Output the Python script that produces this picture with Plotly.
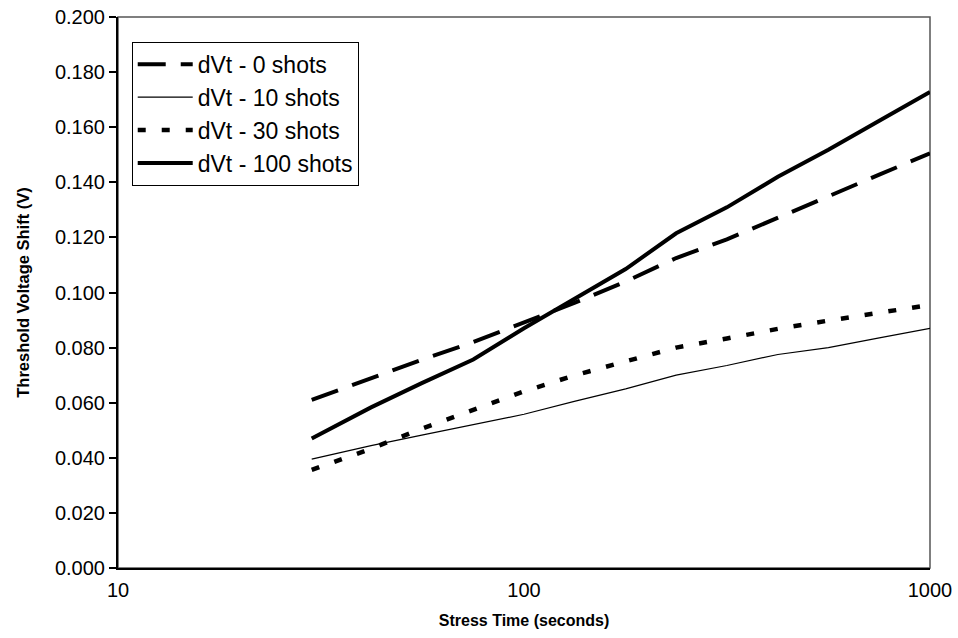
import plotly.graph_objects as go

# Stress times (seconds)
stress_time = [30, 42, 56, 75, 100, 133, 178, 237, 316, 422, 562, 750, 1000]

# Threshold voltage shift (V) for each pre-stress shot count
dvt_0_shots = [0.0610, 0.0689, 0.0756, 0.0820, 0.0890, 0.0962, 0.1040, 0.1125,
               0.1193, 0.1270, 0.1349, 0.1428, 0.1505]
dvt_10_shots = [0.0395, 0.0444, 0.0482, 0.0520, 0.0558, 0.0605, 0.0650, 0.0700,
                0.0735, 0.0775, 0.0800, 0.0835, 0.0870]
dvt_30_shots = [0.0356, 0.0433, 0.0506, 0.0576, 0.0641, 0.0699, 0.0750, 0.0800,
                0.0833, 0.0868, 0.0898, 0.0928, 0.0955]
dvt_100_shots = [0.0470, 0.0583, 0.0671, 0.0757, 0.0870, 0.0975, 0.1085, 0.1215,
                 0.1309, 0.1420, 0.1518, 0.1623, 0.1728]

series_names = ["dVt - 0 shots", "dVt - 10 shots", "dVt - 30 shots", "dVt - 100 shots"]

y_ticks = [0.0, 0.02, 0.04, 0.06, 0.08, 0.10, 0.12, 0.14, 0.16, 0.18, 0.20]
x_ticks = [10, 100, 1000]

FONT = "Liberation Sans, Arial, sans-serif"

fig = go.Figure()
fig.add_trace(go.Scatter(x=stress_time, y=dvt_0_shots, mode="lines", name=series_names[0],
                         line=dict(color="black", width=4, dash="28px,15px")))
fig.add_trace(go.Scatter(x=stress_time, y=dvt_10_shots, mode="lines", name=series_names[1],
                         line=dict(color="black", width=1.2)))
fig.add_trace(go.Scatter(x=stress_time, y=dvt_30_shots, mode="lines", name=series_names[2],
                         line=dict(color="black", width=4.5, dash="8px,16px")))
fig.add_trace(go.Scatter(x=stress_time, y=dvt_100_shots, mode="lines", name=series_names[3],
                         line=dict(color="black", width=4)))

# gray frame around the plotting area
fig.add_shape(type="rect", xref="paper", yref="paper", x0=0, y0=0, x1=1, y1=1,
              line=dict(color="#555555", width=1.5), layer="below")

fig.update_layout(
    width=958, height=638,
    margin=dict(l=118, r=28, t=17, b=70),
    paper_bgcolor="white", plot_bgcolor="white",
    font=dict(family=FONT, color="black", size=20),
    showlegend=True,
    legend=dict(
        x=0.0169, y=0.955, xanchor="left", yanchor="top",
        bgcolor="white", bordercolor="black", borderwidth=1,
        font=dict(family=FONT, size=23, color="black"),
        itemwidth=55, tracegroupgap=0,
    ),
    xaxis=dict(
        type="log", range=[1, 3],
        tickvals=x_ticks, ticktext=[str(v) for v in x_ticks],
        showgrid=False, zeroline=False,
        showline=True, linecolor="black", linewidth=2,
        ticks="", tickfont=dict(size=20), ticklabelstandoff=3,
        title=dict(text="<b>Stress Time (seconds)</b>", font=dict(size=16), standoff=15),
        automargin=False,
    ),
    yaxis=dict(
        range=[0, 0.2], tickvals=y_ticks, tickformat=".3f",
        showgrid=False, zeroline=False,
        showline=True, linecolor="black", linewidth=2,
        ticks="outside", ticklen=7, tickwidth=1.5, tickcolor="black",
        tickfont=dict(size=20),
        title=dict(text="<b>Threshold Voltage Shift (V)</b>", font=dict(size=16.5), standoff=21),
        automargin=False,
    ),
)

fig.write_html("out.html")
